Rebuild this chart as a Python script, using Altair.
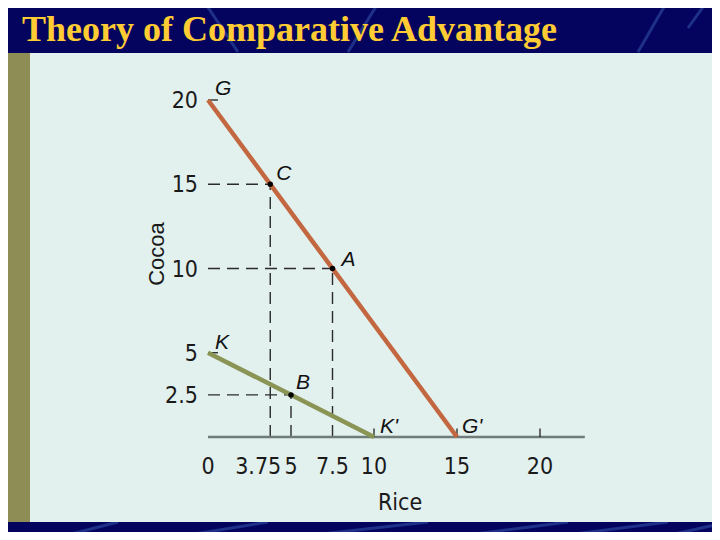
import altair as alt
import pandas as pd

# ---- data ----
title_text = "Theory of Comparative Advantage"

# production possibility frontiers
ppf_names = ["G", "G", "K", "K"]
ppf_rice = [0, 15, 0, 10]
ppf_cocoa = [20, 0, 5, 0]

# marked points
pt_names = ["C", "A", "B"]
pt_rice = [3.75, 7.5, 5]
pt_cocoa = [15, 10, 2.5]

# end-point labels
end_names = ["G", "K", "K'", "G'"]
end_rice = [0, 0, 10, 15]
end_cocoa = [20, 5, 0, 0]

# axis labels
x_tick_values = [0, 5, 7.5, 10, 15, 20]
x_tick_labels = ["0", "5", "7.5", "10", "15", "20"]
x_tick_marks = [10, 15, 20]
y_tick_values = [20, 15, 10, 5, 2.5]
y_tick_labels = ["20", "15", "10", "5", "2.5"]
y_tick_marks = [20, 5]
x_axis_end = 22.7

NAVY = "#04045F"
PANEL = "#E2F0EE"
STRIP = "#8E8D55"
NARROW = "Liberation Sans Narrow, DejaVu Sans Condensed, Arial Narrow, Liberation Sans"

xs = alt.Scale(domain=[0, 20], range=[200, 532], nice=False, zero=False)
ys = alt.Scale(domain=[0, 20], range=[429, 92], nice=False, zero=False)
X = lambda f="x": alt.X(f, type="quantitative", scale=xs, axis=None)
Y = lambda f="y": alt.Y(f, type="quantitative", scale=ys, axis=None)

one = pd.DataFrame({"a": [0]})

# ---- decoration (background panel, strip, streaks, title) ----
panel = alt.Chart(one).mark_rect(color=PANEL).encode(
    x=alt.value(22), x2=alt.value(706), y=alt.value(45), y2=alt.value(514))
strip = alt.Chart(one).mark_rect(color=STRIP).encode(
    x=alt.value(-2), x2=alt.value(22), y=alt.value(45), y2=alt.value(514))

streaks = pd.DataFrame({
    "x1": [195, 340, 630, 680, 40, 150, 260, 420, 520, 640],
    "y1": [-8, 44, 44, 20, 532, 532, 532, 532, 532, 532],
    "x2": [230, 372, 660, 700, 110, 260, 420, 560, 660, 720],
    "y2": [44, -8, -8, -8, 514, 514, 514, 514, 514, 514],
})
streak = alt.Chart(streaks).mark_rule(color="#3F66B8", opacity=0.45, strokeWidth=3).encode(
    x=alt.X("x1:Q", scale=None, axis=None), y=alt.Y("y1:Q", scale=None, axis=None),
    x2="x2:Q", y2="y2:Q")

title = alt.Chart(one).mark_text(
    text=title_text, font="Liberation Serif", fontSize=36, fontWeight="bold",
    color="#FFCC33", align="left", baseline="alphabetic").encode(
    x=alt.value(14), y=alt.value(33))

# ---- chart content ----
ppf_df = pd.DataFrame({"name": ppf_names, "x": ppf_rice, "y": ppf_cocoa})
ppf = alt.Chart(ppf_df).mark_line(strokeWidth=4.5).encode(
    x=X(), y=Y(), detail="name:N",
    color=alt.Color("name:N", scale=alt.Scale(domain=["G", "K"], range=["#C2673F", "#8A9455"]), legend=None))

pts_df = pd.DataFrame({"name": pt_names, "x": pt_rice, "y": pt_cocoa, "zero": [0] * len(pt_names)})
hdash = alt.Chart(pts_df).mark_rule(color="#2b2b2b", strokeWidth=1.4, strokeDash=[12, 7]).encode(
    x=X("zero"), x2="x", y=Y())
vdash = alt.Chart(pts_df).mark_rule(color="#2b2b2b", strokeWidth=1.4, strokeDash=[12, 7]).encode(
    x=X(), y=Y("zero"), y2="y")
dots = alt.Chart(pts_df).mark_point(filled=True, color="black", size=30, opacity=1).encode(x=X(), y=Y())

lab_off = {"C": (6, -4), "A": (9, -3), "B": (5, -6), "G": (7, -5), "K": (7, -4), "K'": (6, -4), "G'": (5, -4)}
lab_layers = []
all_names = pt_names + end_names
all_x = pt_rice + end_rice
all_y = pt_cocoa + end_cocoa
for n, xv, yv in zip(all_names, all_x, all_y):
    dx, dy = lab_off[n]
    lab_layers.append(
        alt.Chart(pd.DataFrame({"x": [xv], "y": [yv], "t": [n]})).mark_text(
            font="Liberation Sans", fontStyle="italic", fontSize=21, color="#111",
            align="left", baseline="alphabetic", dx=dx, dy=dy).encode(x=X(), y=Y(), text="t:N"))

# axis line and ticks
axis_df = pd.DataFrame({"x": [0], "x2": [x_axis_end], "y": [0]})
xaxis = alt.Chart(axis_df).mark_rule(color="#6F7C79", strokeWidth=2.5).encode(x=X(), x2="x2", y=Y())
xt_df = pd.DataFrame({"x": x_tick_marks, "y": [0] * 3, "y2": [0.5] * 3})
xticks = alt.Chart(xt_df).mark_rule(color="#222", strokeWidth=1.3).encode(x=X(), y=Y(), y2="y2")
yt_df = pd.DataFrame({"x": [0] * 2, "x2": [0.6] * 2, "y": y_tick_marks})
yticks = alt.Chart(yt_df).mark_rule(color="#222", strokeWidth=1.3).encode(x=X(), x2="x2", y=Y())

xl_df = pd.DataFrame({"x": x_tick_values, "y": [0] * len(x_tick_values), "t": x_tick_labels})
xlabels = alt.Chart(xl_df).mark_text(font=NARROW, fontSize=23, color="#1a1a1a",
                                     align="center", baseline="alphabetic", dy=37).encode(x=X(), y=Y(), text="t:N")
xl2 = alt.Chart(pd.DataFrame({"x": [3.75], "y": [0], "t": ["3.75"]})).mark_text(
    font=NARROW, fontSize=23, color="#1a1a1a", align="right", baseline="alphabetic", dy=37, dx=11).encode(
    x=X(), y=Y(), text="t:N")
yl_df = pd.DataFrame({"x": [0] * len(y_tick_values), "y": y_tick_values, "t": y_tick_labels})
ylabels = alt.Chart(yl_df).mark_text(font=NARROW, fontSize=23, color="#1a1a1a",
                                     align="right", baseline="middle", dx=-10, dy=1).encode(x=X(), y=Y(), text="t:N")

xtitle = alt.Chart(one).mark_text(text="Rice", font=NARROW, fontSize=23, color="#1a1a1a",
                                  align="center", baseline="alphabetic").encode(x=alt.value(392), y=alt.value(502))
ytitle = alt.Chart(one).mark_text(text="Cocoa", font="Liberation Sans", fontSize=22, color="#1a1a1a",
                                  angle=270, align="center", baseline="middle").encode(x=alt.value(149), y=alt.value(246))

chart = alt.layer(
    streak, strip, panel, title,
    hdash, vdash, xaxis, xticks, yticks, ppf, dots,
    *lab_layers, xlabels, xl2, ylabels, xtitle, ytitle,
).properties(
    width=704, height=524, padding=0,
    autosize=alt.AutoSizeParams(type="none"),
    background=NAVY,
).configure_view(stroke=None)

chart.save("out.html", embed_options={"renderer": "svg", "actions": False})
